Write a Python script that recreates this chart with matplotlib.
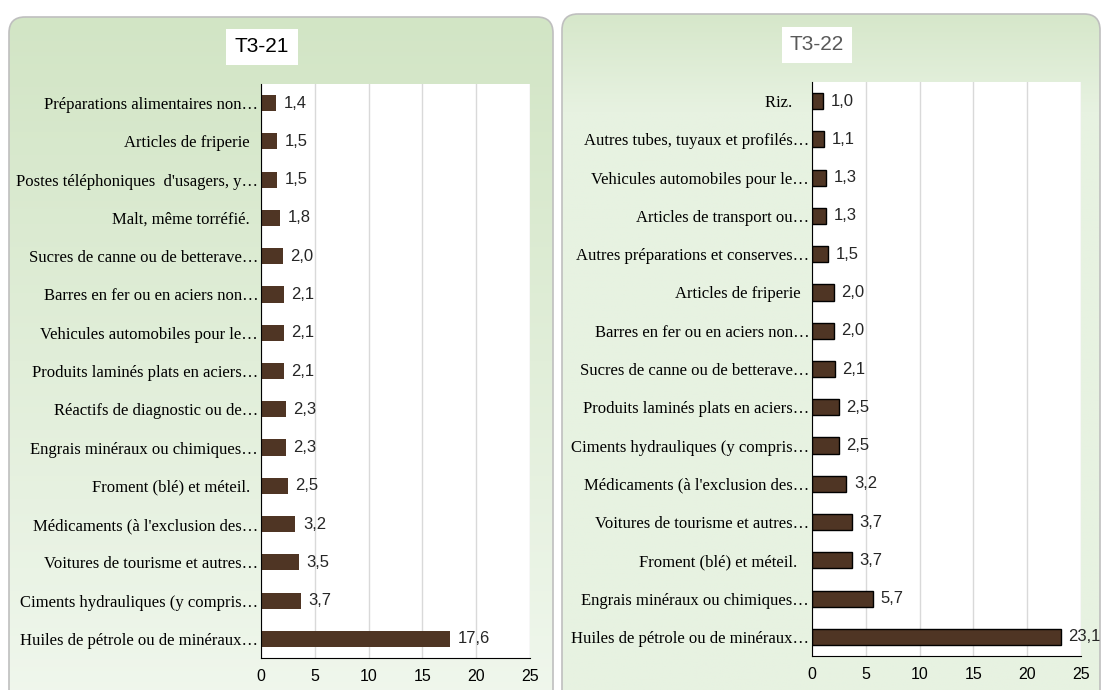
import numpy as np
import matplotlib
matplotlib.use("Agg")
import matplotlib.pyplot as plt
from matplotlib.patches import FancyBboxPatch

left_title = "T3-21"
left_labels = [
    "Préparations alimentaires non…",
    "Articles de friperie  ",
    "Postes téléphoniques  d'usagers, y…",
    "Malt, même torréfié.  ",
    "Sucres de canne ou de betterave…",
    "Barres en fer ou en aciers non…",
    "Vehicules automobiles pour le…",
    "Produits laminés plats en aciers…",
    "Réactifs de diagnostic ou de…",
    "Engrais minéraux ou chimiques…",
    "Froment (blé) et méteil.  ",
    "Médicaments (à l'exclusion des…",
    "Voitures de tourisme et autres…",
    "Ciments hydrauliques (y compris…",
    "Huiles de pétrole ou de minéraux…",
]
left_values = [1.4, 1.5, 1.5, 1.8, 2.0, 2.1, 2.1, 2.1, 2.3, 2.3, 2.5, 3.2, 3.5, 3.7, 17.6]

right_title = "T3-22"
right_labels = [
    "Riz.    ",
    "Autres tubes, tuyaux et profilés…",
    "Vehicules automobiles pour le…",
    "Articles de transport ou…",
    "Autres préparations et conserves…",
    "Articles de friperie  ",
    "Barres en fer ou en aciers non…",
    "Sucres de canne ou de betterave…",
    "Produits laminés plats en aciers…",
    "Ciments hydrauliques (y compris…",
    "Médicaments (à l'exclusion des…",
    "Voitures de tourisme et autres…",
    "Froment (blé) et méteil.   ",
    "Engrais minéraux ou chimiques…",
    "Huiles de pétrole ou de minéraux…",
]
right_values = [1.0, 1.1, 1.3, 1.3, 1.5, 2.0, 2.0, 2.1, 2.5, 2.5, 3.2, 3.7, 3.7, 5.7, 23.1]

x_ticks = [0, 5, 10, 15, 20, 25]

W, H = 1103, 690
fig = plt.figure(figsize=(W / 100, H / 100), dpi=100)
fig.patch.set_facecolor("white")

SERIF = ["Liberation Serif", "DejaVu Serif"]
NARROW = ["Liberation Sans Narrow", "Liberation Sans", "DejaVu Sans"]

# background panels
bg = fig.add_axes([0, 0, 1, 1], zorder=-10)
bg.set_xlim(0, W)
bg.set_ylim(H, 0)
bg.axis("off")


def panel(x0, y0, x1, y1, top_rgb, bot_rgb, fade_end):
    ys = np.linspace(y0, y1, 300)
    t = np.clip((ys - y0) / (fade_end - y0), 0, 1)[:, None]
    top = np.array(top_rgb) / 255.0
    bot = np.array(bot_rgb) / 255.0
    grad = top * (1 - t) + bot * t
    img = np.repeat(grad[:, None, :], 2, axis=1)
    patch = FancyBboxPatch((x0, y0), x1 - x0, y1 - y0,
                           boxstyle="round,pad=0,rounding_size=16",
                           facecolor="none", edgecolor="#bfbfbf", lw=1.2)
    bg.add_patch(patch)
    im = bg.imshow(img, extent=(x0, x1, y1, y0), aspect="auto", zorder=0)
    im.set_clip_path(patch)


panel(9, 17, 553, 706, (210, 229, 197), (240, 247, 237), 706)
panel(562, 14, 1100, 706, (214, 231, 202), (231, 242, 225), 110)


def draw(ax_rect, labels, values, title, title_xy, title_color, edge):
    ax = fig.add_axes(ax_rect)
    ax.set_facecolor("white")
    y = np.arange(len(labels))
    ax.barh(y, values, height=0.42, color="#4f3524",
            edgecolor="black" if edge else "none", linewidth=1.0 if edge else 0,
            zorder=3)
    ax.set_xlim(0, 25)
    ax.set_ylim(len(labels) - 0.5, -0.5)
    ax.set_xticks(x_ticks)
    ax.set_xticklabels([str(v) for v in x_ticks], family=NARROW, fontsize=11.5)
    ax.set_yticks(y)
    ax.set_yticklabels(labels, family=SERIF, fontsize=12)
    ax.tick_params(axis="y", length=0, pad=2)
    ax.tick_params(axis="x", length=0, pad=8)
    ax.grid(axis="x", color="#d9d9d9", lw=1.0, zorder=0)
    for s in ["top", "right"]:
        ax.spines[s].set_visible(False)
    ax.spines["left"].set_color("black")
    ax.spines["bottom"].set_color("black")
    ax.spines["left"].set_zorder(4)
    for yi, v in zip(y, values):
        ax.text(v + 0.7, yi, f"{v:.1f}".replace(".", ","), va="center", ha="left",
                family=NARROW, fontsize=12, color="#262626", zorder=5)
    fig.text(title_xy[0] / W, 1 - title_xy[1] / H, title, ha="center", va="center",
             family=NARROW, fontsize=15, color=title_color,
             bbox=dict(facecolor="white", edgecolor="none", pad=6))
    return ax


draw([261 / W, 1 - 658 / H, 269 / W, 574 / H], left_labels, left_values,
     left_title, (262, 47), "black", False)
draw([812 / W, 1 - 656 / H, 269 / W, 574 / H], right_labels, right_values,
     right_title, (817, 45), "#595959", True)

fig.savefig("out.png", dpi=100)
